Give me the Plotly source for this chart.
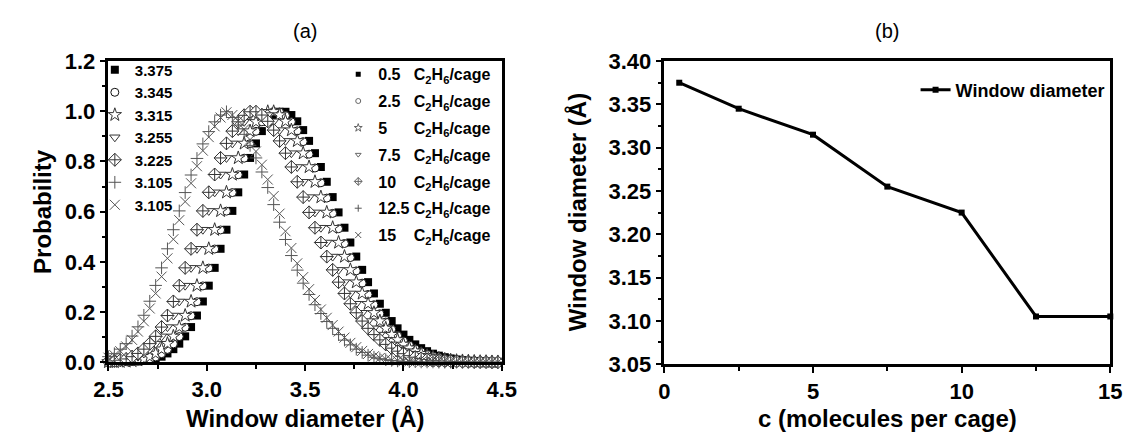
import plotly.graph_objects as go

# ---------------- data ----------------
diam = [2.50, 2.53, 2.56, 2.59, 2.62, 2.65, 2.68, 2.71, 2.74, 2.77,
        2.80, 2.83, 2.86, 2.89, 2.92, 2.95, 2.98, 3.01, 3.04, 3.07,
        3.10, 3.13, 3.16, 3.19, 3.22, 3.25, 3.28, 3.31, 3.34, 3.37,
        3.40, 3.43, 3.46, 3.49, 3.52, 3.55, 3.58, 3.61, 3.64, 3.67,
        3.70, 3.73, 3.76, 3.79, 3.82, 3.85, 3.88, 3.91, 3.94, 3.97,
        4.00, 4.03, 4.06, 4.09, 4.12, 4.15, 4.18, 4.21, 4.24, 4.27,
        4.30, 4.33, 4.36, 4.39, 4.42, 4.45, 4.48]

prob_05 = [0.000, 0.000, 0.001, 0.001, 0.002, 0.003, 0.005, 0.008, 0.013, 0.022,
           0.035, 0.052, 0.074, 0.103, 0.140, 0.186, 0.242, 0.305, 0.376, 0.452,
           0.528, 0.603, 0.677, 0.748, 0.814, 0.872, 0.921, 0.958, 0.984, 0.998,
           0.998, 0.985, 0.960, 0.925, 0.882, 0.833, 0.778, 0.719, 0.658, 0.597,
           0.536, 0.477, 0.421, 0.368, 0.319, 0.274, 0.233, 0.197, 0.164, 0.135,
           0.110, 0.089, 0.071, 0.056, 0.044, 0.034, 0.026, 0.020, 0.015, 0.011,
           0.008, 0.006, 0.005, 0.004, 0.003, 0.002, 0.002]

prob_25 = [0.000, 0.001, 0.001, 0.002, 0.003, 0.005, 0.008, 0.013, 0.021, 0.034,
           0.051, 0.073, 0.102, 0.139, 0.185, 0.241, 0.304, 0.375, 0.451, 0.527,
           0.602, 0.676, 0.747, 0.813, 0.871, 0.920, 0.958, 0.985, 0.999, 0.997,
           0.983, 0.958, 0.922, 0.879, 0.829, 0.774, 0.715, 0.654, 0.593, 0.532,
           0.473, 0.417, 0.364, 0.315, 0.270, 0.229, 0.193, 0.160, 0.131, 0.106,
           0.085, 0.068, 0.053, 0.042, 0.032, 0.025, 0.019, 0.014, 0.011, 0.008,
           0.006, 0.005, 0.004, 0.003, 0.002, 0.002, 0.001]

prob_5 = [0.001, 0.001, 0.002, 0.003, 0.005, 0.008, 0.013, 0.022, 0.035, 0.052,
          0.074, 0.103, 0.140, 0.186, 0.242, 0.305, 0.376, 0.452, 0.528, 0.603,
          0.677, 0.748, 0.814, 0.872, 0.921, 0.958, 0.984, 0.998, 0.998, 0.985,
          0.960, 0.925, 0.882, 0.833, 0.778, 0.719, 0.658, 0.597, 0.536, 0.477,
          0.421, 0.368, 0.319, 0.274, 0.233, 0.197, 0.164, 0.135, 0.110, 0.089,
          0.071, 0.056, 0.044, 0.034, 0.026, 0.020, 0.015, 0.011, 0.008, 0.006,
          0.005, 0.004, 0.003, 0.002, 0.002, 0.001, 0.001]

prob_75 = [0.002, 0.003, 0.005, 0.008, 0.013, 0.022, 0.035, 0.052, 0.074, 0.103,
           0.140, 0.186, 0.242, 0.305, 0.376, 0.452, 0.528, 0.603, 0.677, 0.748,
           0.814, 0.872, 0.921, 0.958, 0.984, 0.998, 0.998, 0.985, 0.960, 0.925,
           0.882, 0.833, 0.778, 0.719, 0.658, 0.597, 0.536, 0.477, 0.421, 0.368,
           0.319, 0.274, 0.233, 0.197, 0.164, 0.135, 0.110, 0.089, 0.071, 0.056,
           0.044, 0.034, 0.026, 0.020, 0.015, 0.011, 0.008, 0.006, 0.005, 0.004,
           0.003, 0.002, 0.002, 0.001, 0.001, 0.001, 0.000]

prob_10 = [0.003, 0.005, 0.008, 0.013, 0.022, 0.035, 0.052, 0.074, 0.103, 0.140,
           0.186, 0.242, 0.305, 0.376, 0.452, 0.528, 0.603, 0.677, 0.748, 0.814,
           0.872, 0.921, 0.958, 0.984, 0.998, 0.998, 0.985, 0.960, 0.925, 0.882,
           0.833, 0.778, 0.719, 0.658, 0.597, 0.536, 0.477, 0.421, 0.368, 0.319,
           0.274, 0.233, 0.197, 0.164, 0.135, 0.110, 0.089, 0.071, 0.056, 0.044,
           0.034, 0.026, 0.020, 0.015, 0.011, 0.008, 0.006, 0.005, 0.004, 0.003,
           0.002, 0.002, 0.001, 0.001, 0.001, 0.000, 0.000]

prob_125 = [0.022, 0.034, 0.052, 0.074, 0.104, 0.141, 0.187, 0.243, 0.306, 0.376,
            0.452, 0.528, 0.603, 0.676, 0.746, 0.812, 0.870, 0.919, 0.958, 0.985,
            0.998, 0.975, 0.945, 0.908, 0.864, 0.814, 0.758, 0.696, 0.628, 0.558,
            0.489, 0.425, 0.367, 0.315, 0.270, 0.229, 0.194, 0.162, 0.135, 0.110,
            0.088, 0.069, 0.052, 0.039, 0.028, 0.020, 0.014, 0.010, 0.007, 0.005,
            0.003, 0.002, 0.002, 0.001, 0.001, 0.001, 0.000, 0.000, 0.000, 0.000,
            0.000, 0.000, 0.000, 0.000, 0.000, 0.000, 0.000]

prob_15 = [0.018, 0.028, 0.044, 0.063, 0.089, 0.122, 0.163, 0.214, 0.274, 0.341,
           0.414, 0.490, 0.566, 0.640, 0.713, 0.781, 0.843, 0.897, 0.940, 0.975,
           0.996, 0.985, 0.962, 0.928, 0.887, 0.840, 0.787, 0.728, 0.662, 0.592,
           0.522, 0.455, 0.394, 0.339, 0.291, 0.248, 0.210, 0.177, 0.148, 0.122,
           0.098, 0.077, 0.060, 0.045, 0.033, 0.024, 0.017, 0.012, 0.008, 0.006,
           0.004, 0.003, 0.002, 0.002, 0.001, 0.001, 0.001, 0.001, 0.000, 0.000,
           0.000, 0.000, 0.000, 0.000, 0.000, 0.000, 0.000]

peak_labels = ["3.375", "3.345", "3.315", "3.255", "3.225", "3.105", "3.105"]
conc_labels = ["0.5", "2.5", "5", "7.5", "10", "12.5", "15"]
conc_pad = [3, 3, 6, 3, 4, 1, 4]

conc = [0.5, 2.5, 5, 7.5, 10, 12.5, 15]
window_d = [3.375, 3.345, 3.315, 3.255, 3.225, 3.105, 3.105]

# ---------------- figure ----------------
W, H = 1136, 446
FONT = "Liberation Sans"

def px(x):
    return x / W

def py(y):
    return 1 - y / H

series = [prob_05, prob_25, prob_5, prob_75, prob_10, prob_125, prob_15]
styles = [
    dict(symbol="square", color="black", size=8, line=dict(width=0)),
    dict(symbol="circle", color="white", size=8, line=dict(color="#111111", width=1)),
    dict(symbol="star", color="white", size=10, line=dict(color="#333333", width=1)),
    dict(symbol="triangle-down", color="white", size=9, line=dict(color="#333333", width=1)),
    dict(symbol="diamond-cross", color="white", size=10, line=dict(color="#333333", width=1)),
    dict(symbol="cross-thin-open", color="#555555", size=9, line=dict(color="#555555", width=1)),
    dict(symbol="x-thin-open", color="#555555", size=10, line=dict(color="#555555", width=1)),
]

fig = go.Figure()
for vals, lab, st in zip(series, peak_labels, styles):
    fig.add_trace(go.Scatter(
        x=diam, y=vals, mode="markers", name=lab, marker=st,
        xaxis="x", yaxis="y", legend="legend", cliponaxis=False,
    ))

# second legend of panel (a): loading labels (legend-only entries)
for i, (lab, pad, st) in enumerate(zip(conc_labels, conc_pad, styles)):
    small = dict(st)
    small["size"] = max(st["size"] - 4, 5)
    small["line"] = dict(st["line"])
    if "color" in small["line"]:
        small["line"]["color"] = "#666666"
    if small["symbol"] == "square":
        small["size"] = 5
    fig.add_trace(go.Scatter(
        x=[None], y=[None], mode="markers", marker=small,
        name=lab + "\u00a0" * pad + "C<sub>2</sub>H<sub>6</sub>/cage",
        xaxis="x", yaxis="y", legend="legend2", legendgroup="g%d" % i,
    ))

# panel (b)
fig.add_trace(go.Scatter(
    x=conc, y=window_d, mode="lines+markers", name="Window diameter",
    line=dict(color="black", width=3),
    marker=dict(symbol="square", size=6, color="black"),
    xaxis="x2", yaxis="y2", legend="legend3", cliponaxis=False,
))

axis_common = dict(
    showline=True, linecolor="black", linewidth=2.5, mirror=True,
    ticks="outside", ticklen=6, tickwidth=2, tickcolor="black",
    showgrid=False, zeroline=False,
    tickfont=dict(family=FONT, size=22, color="black", weight="bold"),
)

PA_L, PA_R, PA_T, PA_B = 96, 500, 52, 371
PB_L, PB_R, PB_T, PB_B = 667, 1125, 52, 373

fig.update_layout(
    width=W, height=H,
    margin=dict(l=0, r=0, t=0, b=0),
    paper_bgcolor="white", plot_bgcolor="white",
    xaxis=dict(domain=[px(PA_L), px(PA_R)], range=[2.5, 4.5], anchor="y",
               dtick=0.5, tickformat=".1f",
               minor=dict(dtick=0.25, ticks="outside", ticklen=4, tickwidth=2, tickcolor="black"),
               **axis_common),
    yaxis=dict(domain=[py(PA_B), py(PA_T)], range=[0, 1.2], anchor="x",
               dtick=0.2, tickformat=".1f",
               minor=dict(dtick=0.1, ticks="outside", ticklen=4, tickwidth=2, tickcolor="black"),
               **axis_common),
    xaxis2=dict(domain=[px(PB_L), px(PB_R)], range=[0, 15], anchor="y2",
                dtick=5,
                minor=dict(dtick=2.5, ticks="outside", ticklen=4, tickwidth=2, tickcolor="black"),
                **axis_common),
    yaxis2=dict(domain=[py(PB_B), py(PB_T)], range=[3.05, 3.40], anchor="x2",
                dtick=0.05, tickformat=".2f",
                minor=dict(dtick=0.025, ticks="outside", ticklen=4, tickwidth=2, tickcolor="black"),
                **axis_common),
    legend=dict(x=px(82), y=py(44), xanchor="left", yanchor="top",
                bgcolor="rgba(0,0,0,0)", borderwidth=0, tracegroupgap=0,
                font=dict(family=FONT, size=15, color="black", weight="bold")),
    legend2=dict(x=px(332), y=py(48), xanchor="left", yanchor="top",
                 bgcolor="rgba(0,0,0,0)", borderwidth=0, tracegroupgap=3,
                 font=dict(family=FONT, size=16, color="black", weight="bold")),
    legend3=dict(x=px(925), y=py(63), xanchor="left", yanchor="top",
                 bgcolor="rgba(0,0,0,0)", borderwidth=0,
                 font=dict(family=FONT, size=18, color="black", weight="bold")),
    showlegend=True,
)

ann_font = dict(family=FONT, size=24, color="black", weight="bold")
cx_a = (PA_L + PA_R) / 2
cx_b = (PB_L + PB_R) / 2
annotations = [
    dict(text="(a)", x=px(cx_a), y=py(20), font=dict(family=FONT, size=20, color="black")),
    dict(text="(b)", x=px(cx_b), y=py(20), font=dict(family=FONT, size=20, color="black")),
    dict(text="Probability", x=px(28), y=py((PA_T + PA_B) / 2), textangle=-90, font=ann_font),
    dict(text="Window diameter (Å)", x=px(cx_a), y=py(431), font=ann_font),
    dict(text="Window diameter (Å)", x=px(578), y=py((PB_T + PB_B) / 2), textangle=-90, font=ann_font),
    dict(text="c (molecules per cage)", x=px(cx_b), y=py(431), font=ann_font),
]
for a in annotations:
    a.update(xref="paper", yref="paper", showarrow=False, xanchor="center", yanchor="middle")
fig.update_layout(annotations=annotations)

fig.write_html("out.html")
